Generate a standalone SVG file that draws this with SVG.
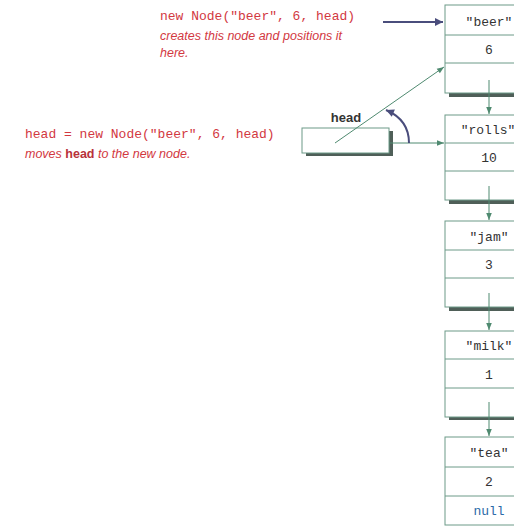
<svg xmlns="http://www.w3.org/2000/svg" width="514" height="526" viewBox="0 0 514 526">
<defs>
<marker id="ag" viewBox="0 0 10 10" refX="10" refY="5" markerWidth="8" markerHeight="7" orient="auto" markerUnits="userSpaceOnUse"><path d="M0,1 L10,5 L0,9 z" fill="#4f8a70"/></marker>
<marker id="ab" viewBox="0 0 10 10" refX="10" refY="5" markerWidth="10" markerHeight="8" orient="auto" markerUnits="userSpaceOnUse"><path d="M0,0 L10,5 L0,10 z" fill="#4a4d7c"/></marker>
</defs>
<style>
.box{fill:#fff;stroke:#6c9a88;stroke-width:1}
.shadow{fill:#4f5f58}
.div{stroke:#6c9a88;stroke-width:1}
.mono{font-family:"Liberation Mono","DejaVu Sans Mono",monospace;font-size:13px;fill:#333;text-anchor:middle}
.null{fill:#2a6aa8}
.red{font-family:"Liberation Mono","DejaVu Sans Mono",monospace;font-size:13px;fill:#d2383f}
.note{font-family:"Liberation Sans",Arial,sans-serif;font-style:italic;font-size:12.5px;fill:#d2383f}
.lbl{font-family:"Liberation Sans",Arial,sans-serif;font-size:13px;fill:#333}
.link{stroke:#4f8a70;stroke-width:1;fill:none}
.blue{stroke:#4a4d7c;stroke-width:2;fill:none}
</style>
<rect width="514" height="526" fill="#fff"/>
<g id="node-beer">
<rect class="shadow" x="449" y="8" width="88" height="89"/>
<rect class="box" x="445" y="5" width="88" height="88"/>
<line class="div" x1="445" y1="35" x2="533" y2="35"/>
<line class="div" x1="445" y1="63" x2="533" y2="63"/>
<text class="mono" x="489" y="26">"beer"</text>
<text class="mono" x="489" y="54">6</text>
</g>
<g id="node-rolls">
<rect class="shadow" x="449" y="118" width="88" height="86"/>
<rect class="box" x="445" y="115" width="88" height="85"/>
<line class="div" x1="445" y1="143" x2="533" y2="143"/>
<line class="div" x1="445" y1="171" x2="533" y2="171"/>
<text class="mono" x="488" y="134">"rolls"</text>
<text class="mono" x="489" y="162">10</text>
</g>
<g id="node-jam">
<rect class="shadow" x="449" y="224" width="88" height="87"/>
<rect class="box" x="445" y="221" width="88" height="86"/>
<line class="div" x1="445" y1="250" x2="533" y2="250"/>
<line class="div" x1="445" y1="278" x2="533" y2="278"/>
<text class="mono" x="489" y="241">"jam"</text>
<text class="mono" x="489" y="269">3</text>
</g>
<g id="node-milk">
<rect class="shadow" x="449" y="334" width="88" height="86"/>
<rect class="box" x="445" y="331" width="88" height="86"/>
<line class="div" x1="445" y1="359" x2="533" y2="359"/>
<line class="div" x1="445" y1="388" x2="533" y2="388"/>
<text class="mono" x="489" y="350">"milk"</text>
<text class="mono" x="489" y="379">1</text>
</g>
<g id="node-tea">
<rect class="box" x="445" y="437" width="88" height="88"/>
<line class="div" x1="445" y1="467" x2="533" y2="467"/>
<line class="div" x1="445" y1="496" x2="533" y2="496"/>
<text class="mono" x="489" y="457">"tea"</text>
<text class="mono" x="489" y="486">2</text>
<text class="mono null" x="489" y="515">null</text>
</g>
<g id="head-var">
<rect class="shadow" x="306" y="131" width="87" height="25"/>
<rect class="box" x="302" y="128" width="87" height="25"/>
<text class="lbl" x="346" y="122" text-anchor="middle" font-weight="bold" fill="#444">head</text>
</g>
<g id="notes">
<text class="red" x="160" y="20">new Node("beer", 6, head)</text>
<text class="note" x="160" y="40">creates this node and positions it</text>
<text class="note" x="160" y="57">here.</text>
<text class="red" x="25" y="138">head = new Node("beer", 6, head)</text>
<text class="note" x="25" y="158">moves <tspan font-style="normal" font-weight="bold" fill="#b8323a">head</tspan> to the new node.</text>
</g>
<g id="connectors">
<line class="link" x1="489" y1="80" x2="489" y2="114" marker-end="url(#ag)"/>
<line class="link" x1="489" y1="186" x2="489" y2="220" marker-end="url(#ag)"/>
<line class="link" x1="489" y1="293" x2="489" y2="330" marker-end="url(#ag)"/>
<line class="link" x1="489" y1="402" x2="489" y2="436" marker-end="url(#ag)"/>
<line class="link" x1="335" y1="143" x2="444" y2="67" marker-end="url(#ag)"/>
<line class="link" x1="389" y1="143" x2="444" y2="143" marker-end="url(#ag)"/>
<line class="blue" stroke-width="1.5" x1="383" y1="22" x2="443" y2="22" marker-end="url(#ab)"/>
<path class="blue" d="M409,143 C409,127 400,116 386,110" marker-end="url(#ab)"/>
</g>
</svg>
